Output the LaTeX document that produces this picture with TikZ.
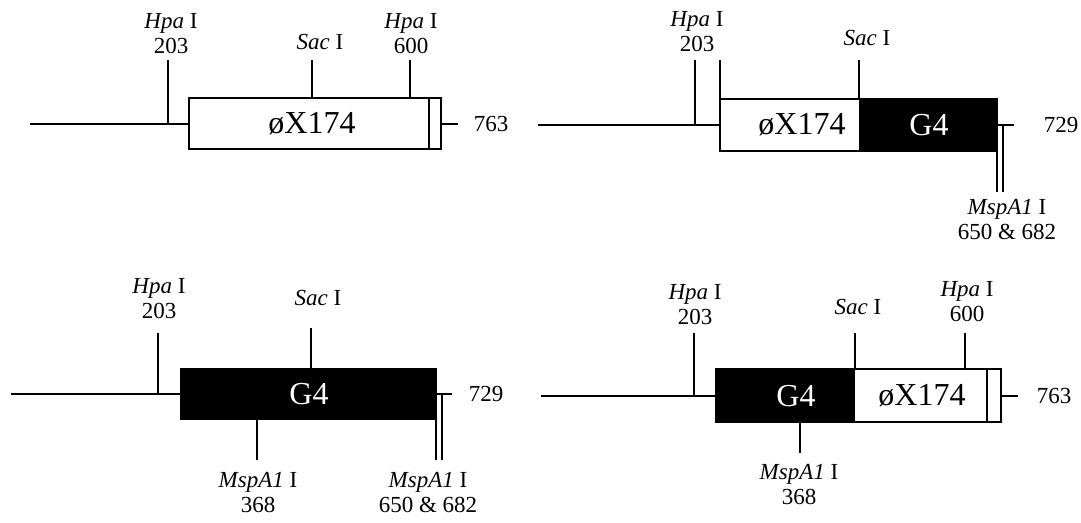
\documentclass[tikz,border=0pt]{standalone}
\usepackage{fontspec}
\setmainfont{Liberation Serif}
\tikzset{
  site/.style={font=\fontsize{11.5}{12.5}\selectfont, align=center, inner sep=0pt},
  gene/.style={font=\fontsize{16}{18}\selectfont, inner sep=0pt},
  len/.style={font=\fontsize{11.5}{12.5}\selectfont, anchor=west, inner sep=0pt},
}
\newcommand{\hpa}{\textit{Hpa} I}
\newcommand{\sac}{\textit{Sac} I}
\newcommand{\msp}{\textit{MspA1} I}

\begin{document}
\begin{tikzpicture}[x=0.5pt, y=-0.5pt, line width=0.75pt]
	\useasboundingbox (0,0) rectangle (1081,523);
	% phiX174
	\draw (30,124) -- (189,124);
	\draw (168,124) -- (168,60);
	\draw (189,98) rectangle (441,149);
	\draw (429,98) -- (429,149);
	\draw (312,98) -- (312,60);
	\draw (410,98) -- (410,60);
	\draw (441,124) -- (458,124);
	\node[gene] (ag) at (312,124) {øX174};
	\node[site] (ah) at (171,34) {\hpa\\203};
	\node[site] (as) at (320,42) {\sac};
	\node[site] (ah2) at (411,34) {\hpa\\600};
	\node[len] (al) at (473,124) {763};
	% phiX174 / G4
	\draw (538,125) -- (720,125);
	\draw (695,125) -- (695,60);
	\fill (859,99) rectangle (997,151);
	\draw (720,99) rectangle (997,151);
	\draw (720,151) -- (720,60);
	\draw (859,99) -- (859,60);
	\draw (997,125) -- (1014,125);
	\draw (997,151) -- (997,192);
	\draw (1003,125) -- (1003,192);
	\node[gene] (bg1) at (802,125) {øX174};
	\node[gene, text=white] (bg2) at (929,125) {G4};
	\node[site] (bh) at (697,31.5) {\hpa\\203};
	\node[site] (bs) at (867,38) {\sac};
	\node[site] (bm) at (1007,220) {\msp\\650 \& 682};
	\node[len] (bl) at (1043,125) {729};
	% G4
	\draw (11,394) -- (180,394);
	\draw (158,394) -- (158,333);
	\fill (180,368) rectangle (437,420);
	\draw (311,368) -- (311,328);
	\draw (257,420) -- (257,460);
	\draw (437,394) -- (452,394);
	\draw (436,420) -- (436,460);
	\draw (442,394) -- (442,460);
	\node[gene, text=white] (cg) at (309,394) {G4};
	\node[site] (ch) at (159,298.5) {\hpa\\203};
	\node[site] (cs) at (318,298) {\sac};
	\node[site] (cm) at (258,492.5) {\msp\\368};
	\node[site] (cm2) at (428,492.5) {\msp\\650 \& 682};
	\node[len] (cl) at (468,394) {729};
	% G4 / phiX174
	\draw (541,396) -- (716,396);
	\draw (694,396) -- (694,333);
	\fill (716,369) rectangle (855,422);
	\draw (716,369) rectangle (1001,422);
	\draw (987,369) -- (987,422);
	\draw (855,369) -- (855,333);
	\draw (965,369) -- (965,333);
	\draw (800,422) -- (800,453);
	\draw (1001,396) -- (1018,396);
	\node[gene, text=white] (dg1) at (796,396) {G4};
	\node[gene] (dg2) at (922,396) {øX174};
	\node[site] (dh) at (695,304.5) {\hpa\\203};
	\node[site] (ds) at (858,307) {\sac};
	\node[site] (dh2) at (967,301.5) {\hpa\\600};
	\node[site] (dm) at (799,485) {\msp\\368};
	\node[len] (dl) at (1036,396) {763};
\end{tikzpicture}
\end{document}
